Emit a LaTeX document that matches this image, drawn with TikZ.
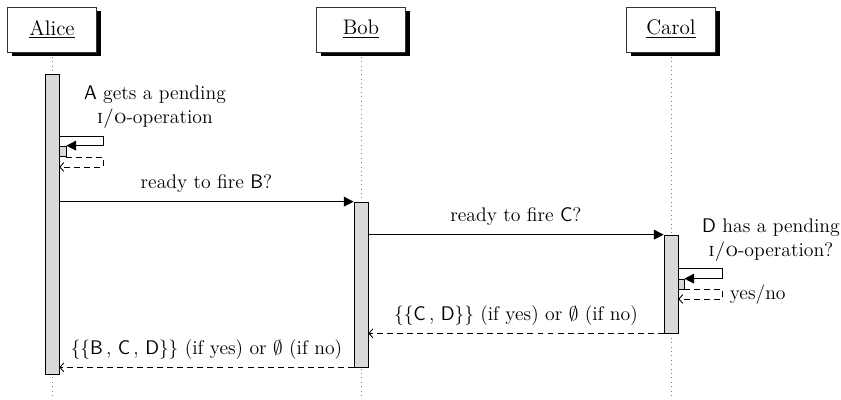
\documentclass[tikz,border=0pt]{standalone}
\usetikzlibrary{arrows.meta,shadows,fit,backgrounds}
\begin{document}
\begin{tikzpicture}[x=0.02cm,y=-0.02cm,
  every node/.style={font=\fontsize{11.2}{13.8}\selectfont},
  actor/.style={draw=black!80,fill=white,line width=0.4pt,minimum width=1.78cm,minimum height=0.9cm,inner sep=0pt,
    font=\fontsize{12}{14}\selectfont,
    drop shadow={shadow xshift=2.4pt,shadow yshift=-2.4pt,fill=black,opacity=1}},
  lifeline/.style={dotted,gray,line width=0.5pt},
  bar/.style={draw=black,fill=gray!30,line width=0.4pt,inner sep=0pt},
  call/.style={line width=0.5pt,-{Triangle[length=5.5pt,width=5.5pt]}},
  ret/.style={line width=0.5pt,dash pattern=on 3.4pt off 2.3pt,-{Straight Barb[length=2.2pt,width=5pt]}},
  lbl/.style={inner sep=0pt,align=center},
  msg/.style={inner sep=0pt,anchor=base,yshift=7.4pt}]
\useasboundingbox (0,0) rectangle (841,399);

% instances
\node[actor] (alice) at (52,29.5) {\underline{Alice}};
\node[actor] (bob)   at (361,29.5) {\underline{Bob}};
\node[actor] (carol) at (671,29.5) {\underline{Carol}};

% lifelines behind everything
\begin{scope}[on background layer]
\draw[lifeline] (alice.south) -- (alice.south |- 0,399);
\draw[lifeline] (bob.south) -- (bob.south |- 0,399);
\draw[lifeline] (carol.south) -- (carol.south |- 0,399);
\end{scope}

% activation bars
\node[bar,fit={(45,74) (59,374)}] (abar) {};
\node[bar,fit={(354,202) (368,367)}] (bbar) {};
\node[bar,fit={(664,235) (678,333)}] (cbar) {};
\node[bar,fit={(59,146) (66,156)}] (aself) {};
\node[bar,fit={(678,279) (684,289)}] (cself) {};

% Alice checks its own pending operation
\node[lbl] (atext) at (155,107) {\textsf{A} gets a pending\\ \textsc{i/o}-operation};
\draw[call] (abar.east |- 0,136) -- ++(44,0) |- (aself.north east);
\draw[ret] (aself.south east) ++(0,1) coordinate (ar0) -- ++(37,0) |- (abar.east |- 0,167);

% Alice asks Bob
\draw[call] (abar.east |- bbar.north) -- (bbar.north west)
  node[msg,midway] (m1) {ready to fire \textsf{B}?};

% Bob asks Carol
\draw[call] (bbar.east |- cbar.north) -- (cbar.north west)
  node[msg,midway] (m2) {ready to fire \textsf{C}?};

% Carol checks D
\node[lbl] (ctext) at (771,240) {\textsf{D} has a pending\\ \textsc{i/o}-operation?};
\draw[call] (cbar.east |- 0,268) -- ++(44,0) |- (cself.north east);
\draw[ret] (cself.south east) -- ++(38,0) |- (cbar.east |- 0,299)
  node[pos=0.25,right=4pt,lbl] (yn) {yes/no};

% answers
\draw[ret] (cbar.south west) -- (bbar.east |- cbar.south)
  node[msg,midway] (r1) {$\{\{$\textsf{C}\,, \textsf{D}$\}\}$ (if yes) or $\emptyset$ (if no)};
\draw[ret] (bbar.south west) -- (abar.east |- bbar.south)
  node[msg,midway] (r2) {$\{\{$\textsf{B}\,, \textsf{C}\,, \textsf{D}$\}\}$ (if yes) or $\emptyset$ (if no)};
\end{tikzpicture}
\end{document}
